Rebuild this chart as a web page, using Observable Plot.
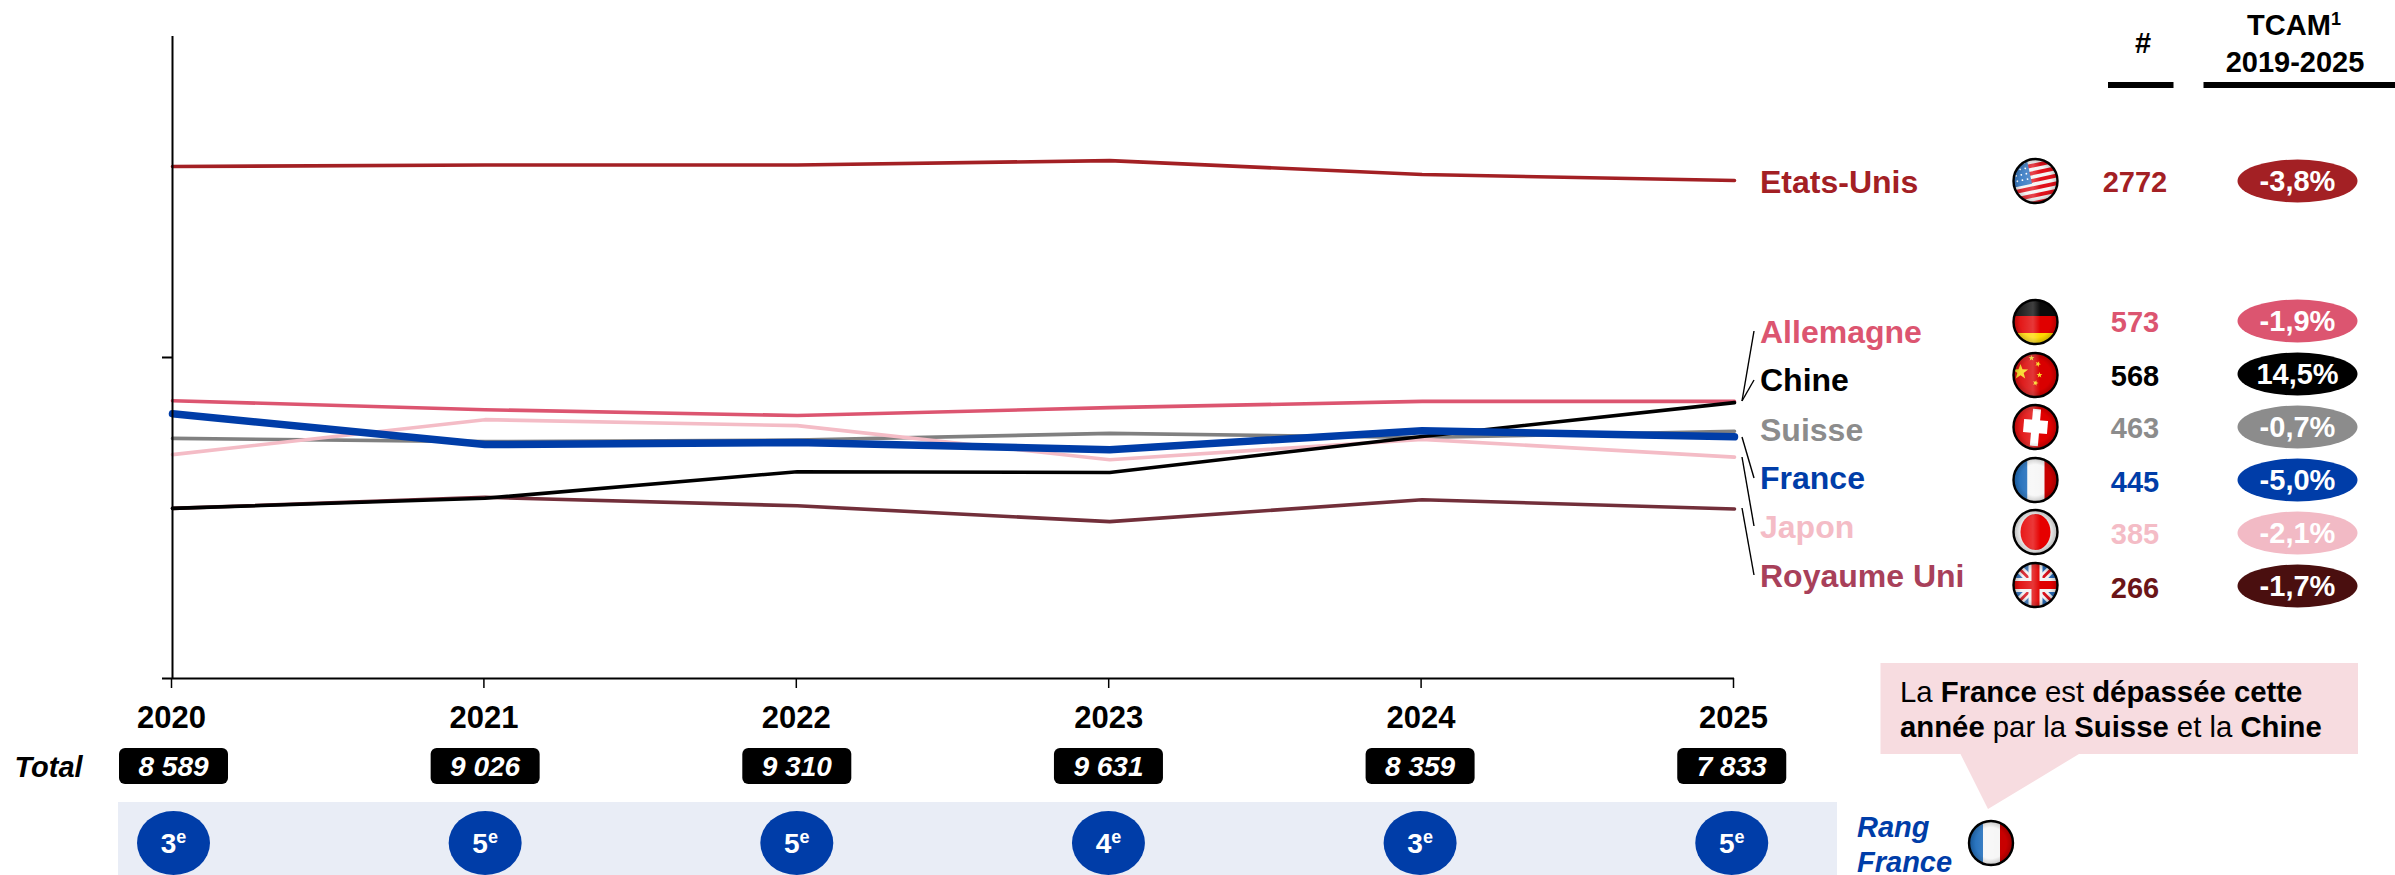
<!DOCTYPE html>
<html><head><meta charset="utf-8">
<script src="https://cdn.jsdelivr.net/npm/d3@7"></script>
<script src="https://cdn.jsdelivr.net/npm/@observablehq/plot@0.6"></script>
<style>html,body{margin:0;padding:0;background:#fff;overflow:hidden}svg{display:block}</style>
</head><body><div id="chart"></div>
<script>
const years = [2020, 2021, 2022, 2023, 2024, 2025];
const etatsUnis = [3063, 3097, 3097, 3196, 2894, 2772];
const allemagne = [576, 540, 518, 548, 573, 573];
const chine = [267, 287, 347, 345, 446, 568];
const suisse = [440, 430, 435, 456, 443, 463];
const france = [525, 421, 427, 406, 465, 445];
const japon = [392, 503, 482, 378, 437, 385];
const royaumeUni = [267, 289, 272, 243, 284, 266];
const totals = ["8 589", "9 026", "9 310", "9 631", "8 359", "7 833"];
const ranks = ["3", "5", "5", "4", "3", "5"];
const countries = ["Etats-Unis", "Allemagne", "Chine", "Suisse", "France", "Japon", "Royaume Uni"];
const counts = ["2772", "573", "568", "463", "445", "385", "266"];
const tcam = ["-3,8%", "-1,9%", "14,5%", "-0,7%", "-5,0%", "-2,1%", "-1,7%"];
const flagKeys = ["us", "de", "cn", "ch", "fr", "jp", "uk"];

const BLUE = "#003DA8";
const styles = {
  line:  {"Etats-Unis":"#A32024","Allemagne":"#DC5570","Chine":"#000000","Suisse":"#808080","France":BLUE,"Japon":"#F4BCC6","Royaume Uni":"#722F3A"},
  label: {"Etats-Unis":"#A32024","Allemagne":"#DC5570","Chine":"#000000","Suisse":"#8C8C8C","France":BLUE,"Japon":"#F4BCC6","Royaume Uni":"#A8405A"},
  count: {"Etats-Unis":"#A32024","Allemagne":"#DC5570","Chine":"#000000","Suisse":"#8C8C8C","France":BLUE,"Japon":"#F4BCC6","Royaume Uni":"#6B1518"},
  pill:  {"Etats-Unis":"#A32024","Allemagne":"#DC5570","Chine":"#000000","Suisse":"#8C8C8C","France":BLUE,"Japon":"#F2BAC5","Royaume Uni":"#4A0F0F"}
};
// layout of the side table (pixels)
const labelBase = [193, 343, 391, 441, 489, 538, 587];
const flagY = [181, 322, 375, 427, 480, 532, 585];
const countY = [182, 322, 376, 428, 482, 534, 588];
const pillY = [181, 321, 374, 427, 480, 533, 586];
const leaders = [[1742,401,1754,331],[1742,401,1754,380],[1742,437,1754,478],[1742,457,1754,526],[1742,508,1754,575]];

const seriesList = [["Suisse",suisse],["Japon",japon],["Allemagne",allemagne],["Etats-Unis",etatsUnis],["Royaume Uni",royaumeUni],["Chine",chine],["France",france]];
const tidy = a => years.map((year,i) => ({year, value:a[i]}));

function text(g, x, y, str, o={}) {
  return g.append("text").attr("x",x).attr("y",y).attr("text-anchor",o.anchor||"middle")
    .attr("font-size",o.size||28).attr("font-weight",o.weight||"bold").attr("font-style",o.italic?"italic":null)
    .attr("fill",o.fill||"#000").text(str);
}
function star(g,cx,cy,r,rot=0){
  const pts=[];for(let i=0;i<10;i++){const a=-Math.PI/2+rot+i*Math.PI/5,q=i%2?r*.42:r;pts.push([cx+q*Math.cos(a),cy+q*Math.sin(a)]);}
  g.append("polygon").attr("points",pts.join(" ")).attr("fill","#F8D820");
}
const flagDraw = {
  us(g){ g.append("rect").attr("x",-25).attr("y",-25).attr("width",50).attr("height",50).attr("fill","#F4F4F4");
    const s=g.append("g").attr("transform","rotate(-12)");
    for(let i=0;i<7;i++) s.append("rect").attr("x",-30).attr("y",-25+i*7.4).attr("width",60).attr("height",3.9).attr("fill","#E0101A");
    s.append("rect").attr("x",-30).attr("y",-30).attr("width",26).attr("height",32).attr("fill","#2F74C0");
    for(let i=0;i<4;i++)for(let j=0;j<4;j++) s.append("circle").attr("cx",-23+i*5.2).attr("cy",-20+j*5.5).attr("r",.9).attr("fill","#fff"); },
  de(g){ [["#0A0A0A",-25,19],["#E00000",-6,17],["#FFD800",11,14]].forEach(([c,y,h])=>g.append("rect").attr("x",-25).attr("y",y).attr("width",50).attr("height",h).attr("fill",c)); },
  cn(g){ g.append("rect").attr("x",-25).attr("y",-25).attr("width",50).attr("height",50).attr("fill","#D90000");
    star(g,-15,-3,8); star(g,-4,-17,3); star(g,2.5,-11,3,.4); star(g,4,0,3); star(g,0,8,3,.3); },
  ch(g){ g.append("rect").attr("x",-25).attr("y",-25).attr("width",50).attr("height",50).attr("fill","#E00000");
    const s=g.append("g").attr("transform","rotate(5)").attr("fill","#fff");
    s.append("rect").attr("x",-4).attr("y",-18).attr("width",8).attr("height",37);
    s.append("rect").attr("x",-12).attr("y",-7).attr("width",24).attr("height",13); },
  fr(g){ [["#1466B8",-25,17],["#F6F6F6",-8,17],["#C80000",9,16]].forEach(([c,x,w])=>g.append("rect").attr("x",x).attr("y",-25).attr("width",w).attr("height",50).attr("fill",c)); },
  jp(g){ g.append("rect").attr("x",-25).attr("y",-25).attr("width",50).attr("height",50).attr("fill","#EAEAEA");
    g.append("ellipse").attr("rx",15).attr("ry",18).attr("fill","#E60000"); },
  uk(g){ g.append("rect").attr("x",-25).attr("y",-25).attr("width",50).attr("height",50).attr("fill","#2A6CB8");
    const l=(x1,y1,x2,y2,c,w)=>g.append("line").attr("x1",x1).attr("y1",y1).attr("x2",x2).attr("y2",y2).attr("stroke",c).attr("stroke-width",w);
    l(-25,-25,25,25,"#F2F2F2",8); l(-25,25,25,-25,"#F2F2F2",8); l(-25,-25,25,25,"#D8101A",3); l(-25,25,25,-25,"#D8101A",3);
    l(0,-25,0,25,"#F2F2F2",14); l(-25,0,25,0,"#F2F2F2",14); l(0,-25,0,25,"#E00000",8); l(-25,0,25,0,"#E00000",8); }
};
let flagId = 0;
function flag(g, key, cx, cy) {
  const id = "clip"+(flagId++);
  const f = g.append("g").attr("transform",`translate(${cx},${cy})`);
  f.append("clipPath").attr("id",id).append("circle").attr("r",22);
  const inner = f.append("g").attr("clip-path",`url(#${id})`);
  flagDraw[key](inner);
  inner.append("circle").attr("r",22).attr("fill","url(#gloss)");
  inner.append("rect").attr("x",-25).attr("y",-25).attr("width",50).attr("height",50).attr("fill","url(#sheen)");
  f.append("circle").attr("r",22).attr("fill","none").attr("stroke","#000").attr("stroke-width",2.4);
}

function annotations(index, scales) {
  const g = d3.create("svg:g").attr("font-family","Liberation Sans, Arial, sans-serif");
  const defs = g.append("defs");
  const gl = defs.append("radialGradient").attr("id","gloss");
  gl.append("stop").attr("offset","70%").attr("stop-color","#000").attr("stop-opacity",0);
  gl.append("stop").attr("offset","100%").attr("stop-color","#000").attr("stop-opacity",.22);
  const sh = defs.append("linearGradient").attr("id","sheen").attr("x1",0).attr("x2",1).attr("y1",0).attr("y2",0);
  [[0,0],[.45,.22],[.6,0],[1,0]].forEach(([o,a])=>sh.append("stop").attr("offset",o).attr("stop-color","#fff").attr("stop-opacity",a));

  // leader lines
  leaders.forEach(([a,b,c,d])=>g.append("line").attr("x1",a).attr("y1",b).attr("x2",c).attr("y2",d).attr("stroke","#000").attr("stroke-width",1.4));

  // side table
  countries.forEach((name,i)=>{
    text(g,1760,labelBase[i],name,{anchor:"start",size:32,fill:styles.label[name]});
    flag(g,flagKeys[i],2035.5,flagY[i]);
    text(g,2135,countY[i]+10,counts[i],{size:29,fill:styles.count[name]});
    g.append("ellipse").attr("cx",2297.5).attr("cy",pillY[i]).attr("rx",60).attr("ry",21.5).attr("fill",styles.pill[name]);
    text(g,2297.5,pillY[i]+10,tcam[i],{size:29,fill:"#fff"});
  });
  // headers
  text(g,2143,53,"#",{size:29});
  const h = text(g,2294,35,"TCAM",{size:29});
  h.append("tspan").attr("font-size",18).attr("dy",-10).text("1");
  text(g,2295,72,"2019-2025",{size:29});
  g.append("rect").attr("x",2108).attr("y",82).attr("width",65.5).attr("height",6).attr("fill","#000");
  g.append("rect").attr("x",2203.5).attr("y",82).attr("width",191.5).attr("height",6).attr("fill","#000");

  // total row: the badges sit very slightly tighter than the axis ticks
  text(g,48.5,777,"Total",{size:29,italic:true});
  g.append("rect").attr("x",118).attr("y",802).attr("width",1719).attr("height",73).attr("fill","#E9EDF6");
  years.forEach((y,i)=>{
    const x = scales.x(y) + 1.5 - i * 0.75;
    g.append("rect").attr("x",x-54.5).attr("y",748).attr("width",109).attr("height",36).attr("rx",6).attr("fill","#000");
    text(g,x,776,totals[i],{size:28,italic:true,fill:"#fff"});
    g.append("ellipse").attr("cx",x).attr("cy",843).attr("rx",36.5).attr("ry",32).attr("fill",BLUE);
    const t = text(g,x,853,ranks[i],{size:28,fill:"#fff"});
    t.append("tspan").attr("font-size",18).attr("dy",-10).text("e");
  });

  // France rank label + flag
  text(g,1857,837,"Rang",{anchor:"start",size:29,italic:true,fill:BLUE});
  text(g,1857,872,"France",{anchor:"start",size:29,italic:true,fill:BLUE});
  flag(g,"fr",1991,843);

  // call-out
  g.append("path").attr("d","M1880.5,663H2358V754H2079L1988,809L1960.5,754H1880.5Z").attr("fill","#F7DCE0");
  const rich = (y,parts)=>{ const t=text(g,1900,y,"",{anchor:"start",size:29.3,weight:"normal"});
    parts.forEach(([s,b])=>t.append("tspan").attr("font-weight",b?"bold":"normal").text(s)); };
  rich(702,[["La ",0],["France",1],[" est ",0],["dépassée cette",1]]);
  rich(737,[["année",1],[" par la ",0],["Suisse",1],[" et la ",0],["Chine",1]]);
  return g.node();
}

const plot = Plot.plot({
  width: 2395, height: 875,
  marginLeft: 172, marginRight: 661, marginTop: 36, marginBottom: 197,
  style: {fontFamily: "Liberation Sans, Arial, sans-serif", background: "#fff", overflow: "visible"},
  x: {type: "linear", domain: [2020, 2025]},
  y: {type: "log", domain: [79.3, 7750]},
  marks: [
    annotations,
    ...seriesList.map(([name, arr]) => Plot.line(tidy(arr), {
      x: "year", y: "value", stroke: styles.line[name],
      strokeWidth: name === "France" ? 7.5 : 3.6, strokeLinejoin: "round", strokeLinecap: "round"
    })),
    Plot.ruleX([2020], {stroke: "#000", strokeWidth: 2}),
    Plot.ruleY([79.3], {stroke: "#000", strokeWidth: 2}),
    Plot.axisY({ticks: [79.3, 784], tickSize: 10, tickFormat: () => "", label: null, stroke: "#000", strokeWidth: 2}),
    Plot.axisX({ticks: years, tickSize: 10, tickPadding: 17, tickFormat: "d", label: null, fontSize: 31, fontWeight: "bold", stroke: "#000", strokeWidth: 1.5, fill: "#000", anchor: "bottom", dx: -1})
  ]
});
document.getElementById("chart").append(plot);
</script></body></html>
